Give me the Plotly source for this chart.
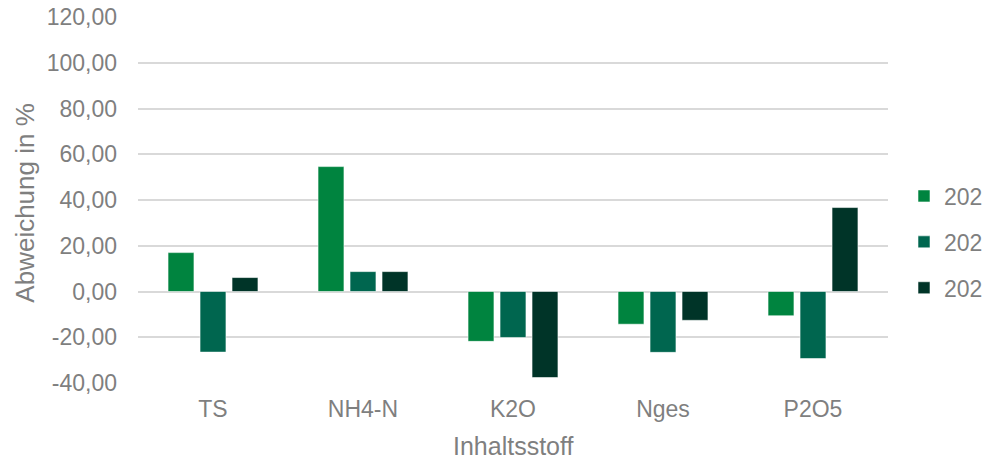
import plotly.graph_objects as go

# Nutrient categories and deviation values (%) per series
categories = ["TS", "NH4-N", "K2O", "Nges", "P2O5"]
series_names = ["202", "202", "202"]
values_a = [17.0, 54.6, -21.8, -14.3, -10.6]
values_b = [-26.5, 8.7, -20.1, -26.6, -29.3]
values_c = [6.1, 8.7, -37.6, -12.6, 36.7]
y_ticks = [-40, -20, 0, 20, 40, 60, 80, 100, 120]
y_tick_text = [f"{v:.2f}".replace(".", ",") for v in y_ticks]

colors = ["#00843f", "#00664f", "#003428"]
font_family = "Liberation Sans, Arial, sans-serif"
grey = "#7f7f7f"

fig = go.Figure()
for i, (name, vals) in enumerate(zip(series_names, [values_a, values_b, values_c])):
    fig.add_trace(go.Bar(
        x=categories,
        y=vals,
        name=name,
        legendgroup=f"g{i}",
        marker=dict(color=colors[i], line=dict(color="rgba(255,255,255,0.55)", width=1)),
    ))

W, H = 988, 461
L, R, T, B = 138, 100, 17, 78
plot_w, plot_h = W - L - R, H - T - B

fig.update_layout(
    width=W,
    height=H,
    margin=dict(l=L, r=R, t=T, b=B),
    paper_bgcolor="white",
    plot_bgcolor="white",
    barmode="group",
    bargap=0.36,
    bargroupgap=0.19,
    font=dict(family=font_family, color=grey, size=23),
    showlegend=True,
    legend=dict(
        xref="container", yref="container",
        x=904 / W, y=1 - 242 / H, xanchor="left", yanchor="middle",
        font=dict(size=23, color=grey),
        traceorder="grouped",
        tracegroupgap=13,
        itemclick=False,
    ),
    xaxis=dict(
        showgrid=False, showline=False, zeroline=False,
        ticks="", tickfont=dict(size=23, color=grey),
        ticklabelstandoff=10,
        automargin=False,
    ),
    yaxis=dict(
        range=[-40, 120],
        tickvals=y_ticks,
        ticktext=y_tick_text,
        showgrid=True, gridcolor="#d9d9d9", gridwidth=1.5,
        zeroline=True, zerolinecolor="#d9d9d9", zerolinewidth=1.5,
        showline=False, ticks="",
        tickfont=dict(size=23, color=grey),
        ticklabelstandoff=20,
        automargin=False,
    ),
    annotations=[
        dict(text="Inhaltsstoff", xref="paper", yref="paper",
             x=0.5, y=(T + plot_h - 446) / plot_h,
             xanchor="center", yanchor="middle", showarrow=False,
             font=dict(size=25, color=grey)),
        dict(text="Abweichung in %", xref="paper", yref="paper",
             x=(25 - L) / plot_w, y=0.49, textangle=-90,
             xanchor="center", yanchor="middle", showarrow=False,
             font=dict(size=26, color=grey)),
    ],
)

fig.write_html("out.html")
